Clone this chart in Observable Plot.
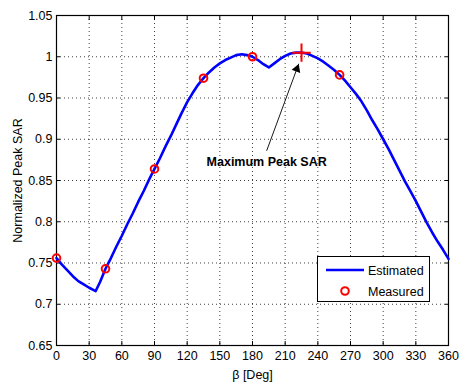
<!DOCTYPE html>
<html>
<head>
<meta charset="utf-8">
<script src="https://cdn.jsdelivr.net/npm/d3@7"></script>
<script src="https://cdn.jsdelivr.net/npm/@observablehq/plot@0.6"></script>
<style>
  html, body { margin: 0; padding: 0; background: #fff; }
  #wrap { position: relative; width: 459px; height: 387px; font-family: "Liberation Sans", Arial, sans-serif; }
  #legend { position: absolute; left: 317px; top: 256px; width: 111px; height: 44px; border: 1px solid #000; background: #fff; font-size: 12.5px; }
  #legend svg { position: absolute; left: 0; top: 0; }
</style>
</head>
<body>
<div id="wrap"></div>
<script>
// Estimated curve (beta in degrees, normalized peak SAR)
const betaDeg = [0,5,10,15,20,25,30,36,40,45,50,55,60,65,70,75,80,85,90,95,100,105,110,115,120,125,130,135,140,145,150,155,160,165,170,175,180,185,190,195,200,205,210,215,220,225,230,235,240,245,250,255,260,265,270,275,280,285,290,295,300,305,310,315,320,325,330,335,340,345,350,355,360];
const estimated = [0.756,0.748,0.741,0.734,0.728,0.724,0.720,0.716,0.727,0.743,0.756,0.770,0.783,0.797,0.810,0.824,0.837,0.851,0.864,0.877,0.891,0.904,0.918,0.932,0.945,0.956,0.966,0.974,0.981,0.987,0.992,0.996,0.999,1.002,1.003,1.002,1.000,0.996,0.991,0.987,0.992,0.997,1.001,1.004,1.005,1.005,1.004,1.001,0.998,0.994,0.989,0.984,0.978,0.971,0.963,0.955,0.946,0.935,0.923,0.912,0.900,0.888,0.875,0.862,0.849,0.837,0.825,0.812,0.799,0.787,0.776,0.766,0.755];

// Measured points
const measuredBeta = [0, 45, 90, 135, 180, 260];
const measuredValue = [0.756, 0.743, 0.864, 0.974, 1.000, 0.978];

// Maximum peak SAR marker
const maxBeta = [225];
const maxValue = [1.005];

// Annotation
const annotationText = ["Maximum Peak SAR"];
const annotationBeta = [193];
const annotationValue = [0.872];
const arrowFrom = [193, 0.886];
const arrowTo = [222.5, 0.9915];

// Axes
const xTicks = [0,30,60,90,120,150,180,210,240,270,300,330,360];
const yTicks = [0.65,0.7,0.75,0.8,0.85,0.9,0.95,1,1.05];
const yTickLabels = ["0.65","0.7","0.75","0.8","0.85","0.9","0.95","1","1.05"];
const xLabel = "β [Deg]";
const yLabel = "Normalized Peak SAR";
const legendLabels = ["Estimated", "Measured"];

const curve = betaDeg.map((b, i) => ({beta: b, sar: estimated[i]}));
const measured = measuredBeta.map((b, i) => ({beta: b, sar: measuredValue[i]}));
const maxPt = maxBeta.map((b, i) => ({beta: b, sar: maxValue[i]}));
const annot = annotationText.map((t, i) => ({t, beta: annotationBeta[i], sar: annotationValue[i]}));
const arrow = [{x1: arrowFrom[0], y1: arrowFrom[1], x2: arrowTo[0], y2: arrowTo[1]}];
const ang = Math.atan2(32.3, 86.7) * 180 / Math.PI;

const fontSize = 12.5;
const chart = Plot.plot({
  width: 459,
  height: 387,
  marginLeft: 56,
  marginRight: 11,
  marginTop: 15,
  marginBottom: 42,
  style: {fontFamily: "'Liberation Sans', Arial, sans-serif", fontSize: fontSize + "px", background: "#fff", color: "#000"},
  x: {domain: [0, 360], label: null},
  y: {domain: [0.65, 1.05], label: null},
  marks: [
    Plot.gridX(xTicks, {stroke: "#000", strokeOpacity: 0.75, strokeDasharray: "1,3"}),
    Plot.gridY(yTicks, {stroke: "#000", strokeOpacity: 0.75, strokeDasharray: "1,3"}),
    Plot.axisX(xTicks, {anchor: "bottom", tickSize: 0, tickPadding: 6, fontSize: fontSize, label: xLabel, labelAnchor: "center", labelOffset: 33, labelArrow: "none"}),
    Plot.axisY(yTicks, {anchor: "left", tickSize: 0, tickPadding: 4, tickFormat: (d, i) => yTickLabels[i], fontSize: fontSize, label: yLabel, labelAnchor: "center", labelOffset: 43, labelArrow: "none"}),
    Plot.axisX(xTicks, {anchor: "bottom", tickSize: -4, tickFormat: () => "", label: null}),
    Plot.axisX(xTicks, {anchor: "top", tickSize: -4, tickFormat: () => "", label: null}),
    Plot.axisY(yTicks, {anchor: "left", tickSize: -4, tickFormat: () => "", label: null}),
    Plot.axisY(yTicks, {anchor: "right", tickSize: -4, tickFormat: () => "", label: null}),
    Plot.frame({stroke: "#000", strokeWidth: 1.2}),
    Plot.line(curve, {x: "beta", y: "sar", stroke: "#0000ff", strokeWidth: 2.6}),
    Plot.dot(measured, {x: "beta", y: "sar", r: 3.8, stroke: "#ff0000", strokeWidth: 2, fill: "none"}),
    Plot.dot(maxPt, {x: "beta", y: "sar", symbol: "plus", r: 6, stroke: "#ff0000", strokeWidth: 2}),
    Plot.link(arrow, {x1: "x1", y1: "y1", x2: "x2", y2: "y2", stroke: "#000", strokeWidth: 0.9}),
    Plot.dot(arrow, {x: "x2", y: "y2", symbol: "triangle", r: 3.4, fill: "#000", stroke: "none", rotate: ang, dx: -1.9, dy: 5.1}),
    Plot.text(annot, {x: "beta", y: "sar", text: "t", fontWeight: "bold", fontSize: fontSize, fill: "#000"})
  ]
});

const wrap = document.getElementById("wrap");
wrap.appendChild(chart);

const legend = document.createElement("div");
legend.id = "legend";
legend.innerHTML = `<svg width="111" height="44">
  <line x1="8" y1="13" x2="46" y2="13" stroke="#0000ff" stroke-width="2.6"/>
  <circle cx="27" cy="34" r="3.8" fill="none" stroke="#ff0000" stroke-width="2"/>
  <text x="50" y="17.5" font-size="${fontSize}" font-family="'Liberation Sans', Arial, sans-serif">${legendLabels[0]}</text>
  <text x="50" y="38.5" font-size="${fontSize}" font-family="'Liberation Sans', Arial, sans-serif">${legendLabels[1]}</text>
</svg>`;
wrap.appendChild(legend);
</script>
</body>
</html>
